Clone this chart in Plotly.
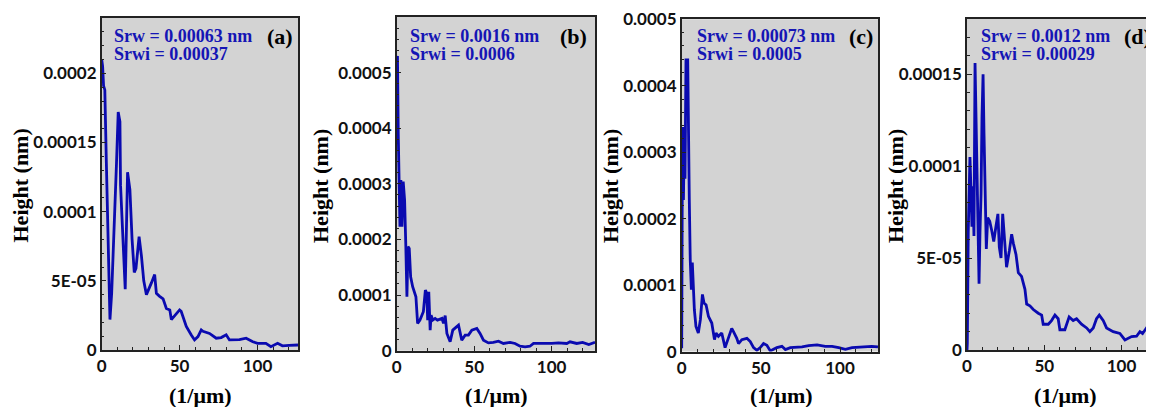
import plotly.graph_objects as go

# ---------------- data ----------------
x_a = [0, 0.6, 1.2, 2.0, 3.0, 4.2, 5.3, 6.4, 8.0, 9.5, 10.6, 11.7, 12.1, 13.4, 15.1, 16.6, 18.1,
       19.5, 20.9, 22.0, 24.0, 25.5, 27.0, 28.7, 30.4, 31.9, 34.0, 35.1, 37.0, 39.4, 41.5, 43.7,
       44.7, 46.9, 50.0, 51.0, 54.3, 57.5, 59.6, 61.8, 63.9, 65.0, 69.2, 73.5, 76.7, 79.9, 82.0,
       88.4, 92.7, 97.0, 100.0, 105.4, 108.6, 112.9, 116.0, 120.3, 126.0]
h_a = [2.10e-4, 2.05e-4, 1.91e-4, 1.88e-4, 1.35e-4, 7.0e-5, 2.2e-5, 4.1e-5, 8.5e-5, 1.35e-4, 1.72e-4,
       1.65e-4, 1.19e-4, 8.5e-5, 4.4e-5, 1.285e-4, 1.16e-4, 8.0e-5, 5.6e-5, 5.9e-5, 8.2e-5, 6.8e-5,
       5.0e-5, 4.0e-5, 4.4e-5, 4.85e-5, 5.45e-5, 4.1e-5, 3.9e-5, 3.7e-5, 3.0e-5, 2.9e-5, 2.2e-5,
       2.5e-5, 2.9e-5, 2.8e-5, 1.7e-5, 1.09e-5, 7.3e-6, 9.7e-6, 1.45e-5, 1.35e-5, 1.2e-5, 8.5e-6,
       9.0e-6, 1.1e-5, 7.3e-6, 7.5e-6, 8.5e-6, 6.0e-6, 4.8e-6, 4.8e-6, 2.4e-6, 4.8e-6, 3.0e-6,
       3.3e-6, 3.6e-6]

x_b = [0, 0.5, 1.0, 1.6, 2.1, 2.7, 3.4, 4.2, 5.1, 5.9, 6.6, 7.3, 8.1, 9.0, 10.3, 12.4, 13.5, 15.0,
       17.2, 18.5, 19.4, 20.0, 20.7, 21.6, 22.2, 23.3, 24.8, 26.3, 27.6, 29.2, 30.2, 31.3, 32.4,
       34.5, 36.2, 38.4, 39.9, 42.0, 44.2, 46.3, 48.5, 51.7, 53.8, 56.0, 59.2, 62.4, 65.7, 68.9,
       73.2, 76.4, 79.6, 82.9, 86.0, 88.3, 92.6, 96.9, 100.1, 104.4, 109.8, 111.9, 116.2, 120.0,
       124.0, 128.0]
h_b = [5.2e-4, 5.3e-4, 3.9e-4, 2.71e-4, 2.23e-4, 3.07e-4, 2.23e-4, 3.04e-4, 2.71e-4, 1.87e-4, 9.7e-5,
       1.87e-4, 1.84e-4, 1.33e-4, 1.15e-4, 9.7e-5, 4.9e-5, 5.5e-5, 7.0e-5, 1.09e-4, 1.03e-4, 5.5e-5,
       1.06e-4, 3.7e-5, 6.4e-5, 5.5e-5, 5.8e-5, 5.5e-5, 5.7e-5, 5.8e-5, 4.9e-5, 6.3e-5, 3.1e-5,
       1.6e-5, 3.7e-5, 4.3e-5, 4.6e-5, 1.9e-5, 2.8e-5, 2.8e-5, 3.7e-5, 4.0e-5, 3.1e-5, 1.9e-5,
       1.4e-5, 1.5e-5, 1.7e-5, 1.3e-5, 1.5e-5, 1.3e-5, 8.0e-6, 7.0e-6, 8.0e-6, 1.3e-5, 1.3e-5,
       1.2e-5, 1.3e-5, 1.4e-5, 1.3e-5, 1.6e-5, 1.3e-5, 1.5e-5, 1.1e-5, 1.5e-5]

x_c = [0, 0.3, 0.5, 1.1, 1.7, 2.1, 2.7, 3.8, 4.2, 4.8, 5.4, 6.1, 6.7, 7.4, 8.0, 9.0, 10.5, 11.8,
       13.1, 14.1, 15.4, 16.9, 19.0, 20.7, 21.7, 23.2, 25.3, 27.4, 29.5, 31.6, 32.7, 34.8, 35.9,
       38.0, 41.2, 43.3, 45.4, 47.5, 49.6, 51.7, 53.8, 56.0, 58.0, 60.1, 63.3, 65.5, 68.6, 76.0,
       80.2, 85.5, 90.7, 95.0, 99.2, 103.4, 107.6, 111.8, 116.1, 120.0, 124.0]
h_c = [5.0e-6, 2.4e-4, 3.38e-4, 2.28e-4, 3.38e-4, 2.6e-4, 4.39e-4, 4.39e-4, 3.28e-4, 2.28e-4, 1.38e-4,
       9.3e-5, 1.34e-4, 9.3e-5, 6.3e-5, 3.8e-5, 2.8e-5, 4.8e-5, 8.6e-5, 7.3e-5, 7.0e-5, 5.3e-5,
       4.3e-5, 1.8e-5, 2.8e-5, 2.3e-5, 2.8e-5, 6.0e-6, 2.2e-5, 3.5e-5, 3.0e-5, 2.0e-5, 1.2e-5,
       1.8e-5, 2.0e-5, 1.5e-5, 6.0e-6, 2.0e-6, 6.0e-6, 1.2e-5, 9.5e-6, 1.0e-6, 3.5e-6, 6.0e-6,
       8.0e-6, 3.0e-6, 6.0e-6, 7.0e-6, 9.0e-6, 1.0e-5, 8.0e-6, 8.0e-6, 6.0e-6, 3.5e-6, 6.0e-6,
       7.0e-6, 8.0e-6, 8.0e-6, 7.0e-6]

x_d = [0, 0.2, 0.8, 1.25, 1.9, 2.5, 3.2, 3.8, 4.5, 5.2, 5.8, 6.5, 7.1, 7.8, 8.4, 9.1, 9.7, 10.4,
       11.0, 11.7, 12.5, 13.4, 14.7, 16.0, 17.3, 18.7, 20.0, 20.9, 22.0, 23.1, 24.2, 25.6, 27.4,
       28.9, 30.0, 31.7, 33.2, 35.3, 37.5, 38.6, 40.7, 42.9, 46.1, 48.3, 49.3, 52.6, 54.7, 56.9,
       59.0, 60.1, 63.3, 66.1, 68.7, 70.9, 74.1, 77.4, 79.5, 81.7, 83.8, 85.6, 88.2, 90.3, 94.6,
       98.9, 102.2, 104.3, 106.5, 109.7, 111.9, 113.6, 116.2, 119.5, 121.0]
h_d = [0, 3.6e-6, 6.4e-5, 8.7e-5, 1.05e-4, 8.9e-5, 6.7e-5, 8.9e-5, 6.2e-5, 1.56e-4, 1.27e-4, 8.9e-5,
       6.4e-5, 3.6e-5, 6.4e-5, 8.5e-5, 1.27e-4, 1.50e-4, 1.18e-4, 8.2e-5, 5.5e-5, 7.2e-5, 7.0e-5,
       6.5e-5, 5.9e-5, 6.7e-5, 7.4e-5, 5.6e-5, 5.0e-5, 7.4e-5, 6.0e-5, 4.5e-5, 5.4e-5, 6.3e-5,
       5.8e-5, 5.2e-5, 4.2e-5, 4.0e-5, 3.3e-5, 2.5e-5, 2.4e-5, 2.2e-5, 2.0e-5, 1.9e-5, 1.4e-5,
       1.4e-5, 1.6e-5, 1.9e-5, 1.7e-5, 1.1e-5, 1.1e-5, 1.8e-5, 1.6e-5, 1.7e-5, 1.4e-5, 1.2e-5,
       1.0e-5, 1.2e-5, 1.7e-5, 1.9e-5, 1.6e-5, 1.2e-5, 1.0e-5, 9.0e-6, 5.5e-6, 6.5e-6, 7.3e-6,
       7.5e-6, 1.0e-5, 9.0e-6, 1.2e-5, 1.1e-5, 1.09e-5]

panel_labels = ["(a)", "(b)", "(c)", "(d)"]
srw_text = ["Srw = 0.00063 nm", "Srw = 0.0016 nm", "Srw = 0.00073 nm", "Srw = 0.0012 nm"]
srwi_text = ["Srwi = 0.00037", "Srwi = 0.0006", "Srwi = 0.0005", "Srwi = 0.00029"]

x_tickvals = [0, 50, 100]
x_ticktext = ["0", "50", "100"]
y_tickvals_a = [0, 5e-5, 1e-4, 1.5e-4, 2e-4]
y_ticktext_a = ["0", "5E-05", "0.0001", "0.00015", "0.0002"]
y_tickvals_b = [0, 1e-4, 2e-4, 3e-4, 4e-4, 5e-4, 6e-4]
y_ticktext_b = ["0", "0.0001", "0.0002", "0.0003", "0.0004", "0.0005", "0.0006"]
y_tickvals_c = [0, 1e-4, 2e-4, 3e-4, 4e-4, 5e-4]
y_ticktext_c = ["0", "0.0001", "0.0002", "0.0003", "0.0004", "0.0005"]
y_tickvals_d = [0, 5e-5, 1e-4, 1.5e-4]
y_ticktext_d = ["0", "5E-05", "0.0001", "0.00015"]

x_title = "(1/μm)"
y_title = "Height (nm)"

# ---------------- layout geometry (window pixels; page body has an 8px margin) ----------------
WIN_W, WIN_H, OFF = 1154, 407, 8
W, H = WIN_W - OFF, WIN_H - OFF
def px(x):
    return (x - OFF) / W
def py(y):
    return (WIN_H - y) / H

panels = [
    dict(x=x_a, y=h_a, xr=[0, 126], yr=[0, 2.4e-4], tv=y_tickvals_a, tt=y_ticktext_a, ymin=1e-5,
         dom_x=(101.7, 298), dom_y=(350, 18), ytx=19.5, xtx=200, ann_x=111.7, lab_x=280, mirror_y=True),
    dict(x=x_b, y=h_b, xr=[0, 128], yr=[0, 6e-4], tv=y_tickvals_b, tt=y_ticktext_b, ymin=2e-5,
         dom_x=(396.7, 595), dom_y=(350.7, 17), ytx=320, xtx=496, ann_x=408.3, lab_x=573, mirror_y=True),
    dict(x=x_c, y=h_c, xr=[0, 124], yr=[0, 5e-4], tv=y_tickvals_c, tt=y_ticktext_c, ymin=2e-5,
         dom_x=(681.7, 878), dom_y=(351.6, 19.3), ytx=610, xtx=781, ann_x=695, lab_x=861, mirror_y=True),
    dict(x=x_d, y=h_d, xr=[0, 121], yr=[0, 1.8e-4], tv=y_tickvals_d, tt=y_ticktext_d, ymin=1e-5,
         dom_x=(967, 1154), dom_y=(350, 19), ytx=895, xtx=1065, ann_x=979.3, lab_x=1137, mirror_y=False),
]

line_color = "#0a0ab0"
text_blue = "#1515b5"
axis_color = "#222222"
tick_font = dict(family="Lato, 'Open Sans', sans-serif", size=17, color="#111111", weight="bold")
serif = "'Liberation Serif', 'Times New Roman', serif"

fig = go.Figure()
annotations = []
layout = dict(width=W, height=H, margin=dict(l=0, r=0, t=0, b=0, pad=0, autoexpand=False),
              paper_bgcolor="white", showlegend=False)

for i, p in enumerate(panels):
    n = "" if i == 0 else str(i + 1)
    fig.add_trace(go.Scatter(x=p["x"], y=p["y"], mode="lines",
                             line=dict(color=line_color, width=2.8),
                             xaxis="x" + n, yaxis="y" + n, hoverinfo="skip"))
    x0d, x1d = px(p["dom_x"][0]), min(1.0, px(p["dom_x"][1]))
    y0d, y1d = py(p["dom_y"][0]), min(1.0, py(p["dom_y"][1]))
    layout["xaxis" + n] = dict(
        domain=[x0d, x1d], range=p["xr"],
        anchor="y" + n, showgrid=False, zeroline=False, automargin=False,
        showline=True, linecolor=axis_color, linewidth=1.5, mirror=True,
        ticks="inside", ticklen=5, tickwidth=1, tickcolor=axis_color,
        tickmode="array", tickvals=x_tickvals, ticktext=x_ticktext,
        tickfont=tick_font,
        minor=dict(tickmode="linear", tick0=0, dtick=10, ticks="inside", ticklen=3,
                   tickcolor=axis_color, tickwidth=1, showgrid=False),
    )
    layout["yaxis" + n] = dict(
        domain=[y0d, y1d], range=p["yr"],
        anchor="x" + n, showgrid=False, zeroline=False, automargin=False,
        showline=True, linecolor=axis_color, linewidth=1.5, mirror=p["mirror_y"],
        ticks="inside", ticklen=5, tickwidth=1, tickcolor=axis_color,
        tickmode="array", tickvals=p["tv"], ticktext=p["tt"],
        tickfont=tick_font,
        minor=dict(tickmode="linear", tick0=0, dtick=p["ymin"], ticks="inside", ticklen=3,
                   tickcolor=axis_color, tickwidth=1, showgrid=False),
    )
    # plot area background
    layout.setdefault("shapes", []).append(dict(
        type="rect", xref="paper", yref="paper", layer="below",
        x0=x0d, x1=x1d, y0=y0d, y1=y1d,
        fillcolor="#d3d3d3", line=dict(width=0)))
    # axis titles
    annotations.append(dict(text=y_title, xref="paper", yref="paper", x=px(p["ytx"]), y=py(186),
                            textangle=-90, showarrow=False, xanchor="center", yanchor="middle",
                            font=dict(family=serif, size=22, color="black", weight="bold")))
    annotations.append(dict(text=x_title, xref="paper", yref="paper", x=px(p["xtx"]), y=py(395.5),
                            showarrow=False, xanchor="center", yanchor="middle",
                            font=dict(family=serif, size=22, color="black", weight="bold")))
    annotations.append(dict(text=srw_text[i], xref="paper", yref="paper", x=px(p["ann_x"]), y=py(35.5),
                            showarrow=False, xanchor="left", yanchor="middle",
                            font=dict(family=serif, size=18, color=text_blue, weight="bold")))
    annotations.append(dict(text=srwi_text[i], xref="paper", yref="paper", x=px(p["ann_x"]), y=py(53.5),
                            showarrow=False, xanchor="left", yanchor="middle",
                            font=dict(family=serif, size=18, color=text_blue, weight="bold")))
    annotations.append(dict(text=panel_labels[i], xref="paper", yref="paper", x=px(p["lab_x"]), y=py(36),
                            showarrow=False, xanchor="center", yanchor="middle",
                            font=dict(family=serif, size=22, color="black", weight="bold")))

layout["annotations"] = annotations
layout["plot_bgcolor"] = "rgba(0,0,0,0)"
fig.update_layout(**layout)
fig.write_html("out.html")
